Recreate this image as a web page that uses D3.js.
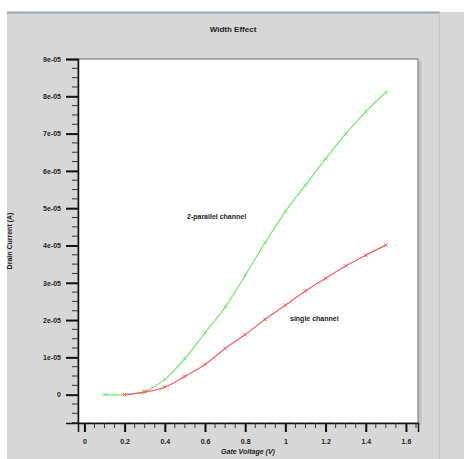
<!DOCTYPE html>
<html>
<head>
<meta charset="utf-8">
<script src="https://cdn.jsdelivr.net/npm/d3@7"></script>
<style>
  body { margin: 0; background: #fff; }
  svg text { font-family: "Liberation Sans", Arial, sans-serif; font-weight: bold; fill: #222; }
</style>
</head>
<body>
<svg></svg>
<script>
// Gate voltage (V)
var voltage = [0.1, 0.2, 0.3, 0.4, 0.5, 0.6, 0.7, 0.8, 0.9, 1.0, 1.1, 1.2, 1.3, 1.4, 1.5];
// Drain current, 2-parallel channel (A)
var parallelCurrent = [0, 0, 0.09e-5, 0.41e-5, 0.97e-5, 1.66e-5, 2.34e-5, 3.2e-5, 4.08e-5, 4.91e-5, 5.62e-5, 6.32e-5, 6.99e-5, 7.59e-5, 8.11e-5];
// single channel starts at 0.2 V
var singleVoltage = [0.2, 0.3, 0.4, 0.5, 0.6, 0.7, 0.8, 0.9, 1.0, 1.1, 1.2, 1.3, 1.4, 1.5];
var singleCurrent = [0, 0.07e-5, 0.2e-5, 0.49e-5, 0.81e-5, 1.24e-5, 1.61e-5, 2.02e-5, 2.40e-5, 2.78e-5, 3.12e-5, 3.45e-5, 3.74e-5, 4.01e-5];

var xTicks = [0, 0.2, 0.4, 0.6, 0.8, 1, 1.2, 1.4, 1.6];
var yTicks = [0, 1e-5, 2e-5, 3e-5, 4e-5, 5e-5, 6e-5, 7e-5, 8e-5, 9e-5];

var width = 464,
    height = 459;

var svg = d3.select("svg")
    .attr("width", width)
    .attr("height", height);

// grey window panel
svg.append("rect")
    .attr("x", 7).attr("y", 12)
    .attr("width", width - 7).attr("height", height - 12)
    .attr("fill", "#d7d7d7");
svg.append("line")
    .attr("x1", 7).attr("x2", 440).attr("y1", 12.5).attr("y2", 12.5)
    .attr("stroke", "#97a3ad").attr("stroke-width", 2);
svg.append("line")
    .attr("x1", 439.5).attr("x2", 439.5).attr("y1", 12).attr("y2", height)
    .attr("stroke", "#c4c4c4");

var x = d3.scaleLinear()
    .domain([-0.032, 1.66])
    .range([78, 418]);

var y = d3.scaleLinear()
    .domain([-0.76e-5, 9e-5])
    .range([423, 59]);

// plot box + shadow
svg.append("rect")
    .attr("x", 418).attr("y", 61)
    .attr("width", 4).attr("height", 364)
    .attr("fill", "#c6c6c6");
svg.append("rect")
    .attr("x", 78).attr("y", 59)
    .attr("width", 340).attr("height", 364)
    .attr("fill", "#fff")
    .attr("stroke", "#6a6a6a")
    .attr("stroke-width", 1);

// y axis
var yAxis = d3.axisLeft(y)
    .tickValues(yTicks)
    .tickSize(12)
    .tickPadding(5)
    .tickFormat(function(d) { return d === 0 ? "0" : Math.round(d * 1e5) + "e-05"; });

var gy = svg.append("g")
    .attr("transform", "translate(78,0)")
    .call(yAxis);
gy.select(".domain").attr("stroke", "#111").attr("stroke-width", 1.5);
gy.selectAll(".tick line").attr("stroke", "#111").attr("stroke-width", 2);
gy.selectAll(".tick text").style("font-size", "7px");

var yMinor = d3.range(-3, 36).map(function(i) { return i * 0.25e-5; })
    .filter(function(d) { return Math.abs(d / 1e-5 - Math.round(d / 1e-5)) > 1e-6; });
svg.append("g")
    .selectAll("line")
    .data(yMinor)
    .enter().append("line")
      .attr("x1", 72).attr("x2", 78)
      .attr("y1", function(d) { return y(d); })
      .attr("y2", function(d) { return y(d); })
      .attr("stroke", "#333").attr("stroke-width", 1);

// x axis
var xAxis = d3.axisBottom(x)
    .tickValues(xTicks)
    .tickSize(9)
    .tickPadding(7)
    .tickFormat(d3.format("~g"));

var gx = svg.append("g")
    .attr("transform", "translate(0,423)")
    .call(xAxis);
gx.select(".domain").attr("stroke", "#111").attr("stroke-width", 1.5);
gx.selectAll(".tick line").attr("stroke", "#111").attr("stroke-width", 2);
gx.selectAll(".tick text").style("font-size", "7px");

var xMinor = d3.range(0, 34).map(function(i) { return i * 0.05; })
    .filter(function(d) { return Math.abs(d / 0.2 - Math.round(d / 0.2)) > 1e-6; });
svg.append("g")
    .selectAll("line")
    .data(xMinor)
    .enter().append("line")
      .attr("x1", function(d) { return x(d); })
      .attr("x2", function(d) { return x(d); })
      .attr("y1", 423).attr("y2", 428)
      .attr("stroke", "#333").attr("stroke-width", 1);

// titles
svg.append("text")
    .attr("x", 233).attr("y", 32)
    .attr("text-anchor", "middle")
    .style("font-size", "8px")
    .text("Width Effect");

svg.append("text")
    .attr("x", 248).attr("y", 454)
    .attr("text-anchor", "middle")
    .style("font-size", "7px")
    .style("font-style", "italic")
    .text("Gate Voltage (V)");

svg.append("text")
    .attr("transform", "translate(12,241) rotate(-90)")
    .attr("text-anchor", "middle")
    .style("font-size", "7px")
    .text("Drain Current (A)");

// curves
var line = d3.line()
    .x(function(d) { return x(d[0]); })
    .y(function(d) { return y(d[1]); })
    .curve(d3.curveCatmullRom.alpha(0.5));

var series = [
  { pts: d3.zip(voltage, parallelCurrent), color: "#6fe86f" },
  { pts: d3.zip(singleVoltage, singleCurrent), color: "#ff5c5c" }
];

var marker = d3.symbol().type(d3.symbolTimes).size(10);

series.forEach(function(s) {
  svg.append("path")
      .attr("d", line(s.pts))
      .attr("fill", "none")
      .attr("stroke", s.color)
      .attr("stroke-width", 1.2);
  svg.append("g")
    .selectAll("path")
    .data(s.pts)
    .enter().append("path")
      .attr("transform", function(d) { return "translate(" + x(d[0]) + "," + y(d[1]) + ")"; })
      .attr("d", marker)
      .attr("fill", "none")
      .attr("stroke", s.color)
      .attr("stroke-width", 1);
});

// curve labels
svg.append("text")
    .attr("x", 187).attr("y", 219)
    .style("font-size", "7px")
    .text("2-parallel channel");

svg.append("text")
    .attr("x", 290).attr("y", 321)
    .style("font-size", "7px")
    .text("single channel");
</script>
</body>
</html>
